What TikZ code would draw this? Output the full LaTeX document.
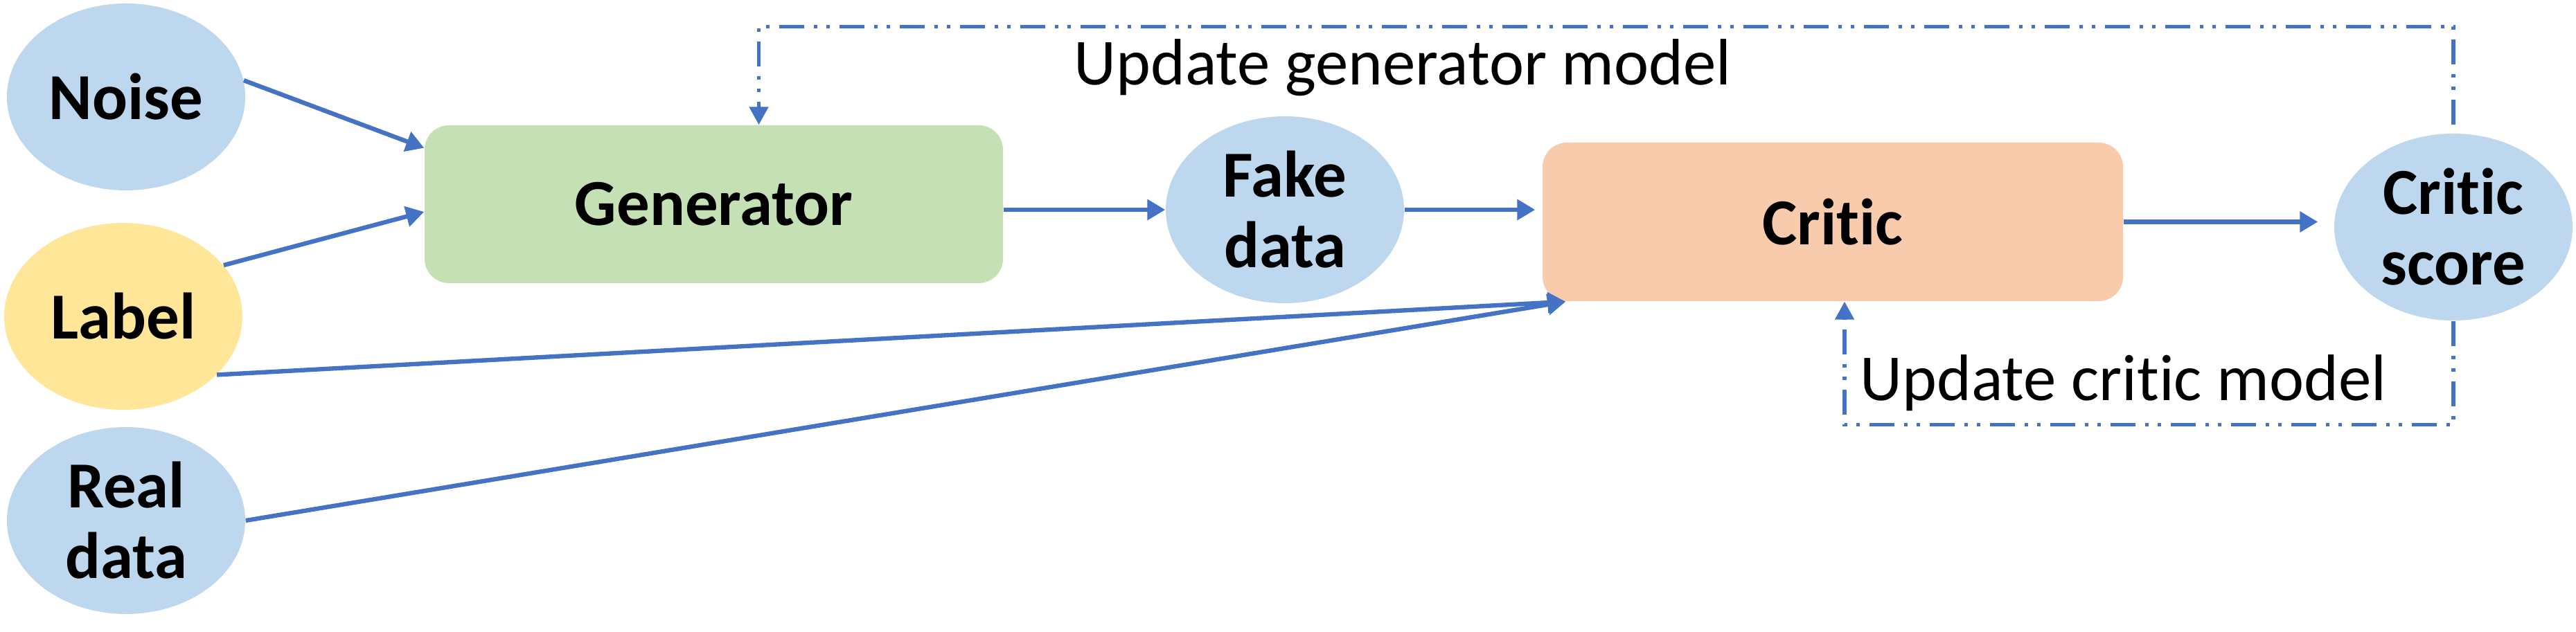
\documentclass[tikz,border=0pt]{standalone}
\usepackage{fontspec}
\setmainfont{Carlito}[Ligatures=NoCommon]
\usetikzlibrary{shapes.geometric,arrows.meta}
\definecolor{inputblue}{HTML}{BDD7EE}
\definecolor{labelyellow}{HTML}{FFE699}
\definecolor{gengreen}{HTML}{C5E0B4}
\definecolor{criticorange}{HTML}{F8CBAD}
\definecolor{arrowblue}{HTML}{4472C4}
\tikzset{
  blob/.style={ellipse, fill=inputblue, minimum width=3.44cm, minimum height=2.7cm,
    inner sep=0pt, align=center, font=\fontsize{27}{29}\selectfont\bfseries},
  block/.style={rectangle, rounded corners=0.35cm, minimum width=8.35cm,
    minimum height=2.28cm, font=\fontsize{27}{29}\selectfont\bfseries},
  flow/.style={draw=arrowblue, line width=1.8pt, -{Triangle[length=2.6mm,width=2.9mm]}},
  feedback/.style={draw=arrowblue, line width=1.5pt,
    dash pattern=on 0.36cm off 0.14cm on 0.05cm off 0.13cm on 0.05cm off 0.14cm,
    -{Triangle[length=2.6mm,width=2.7mm]}},
  looptext/.style={anchor=base west, inner sep=0pt, font=\fontsize{27}{29}\selectfont}
}

\begin{document}
\begin{tikzpicture}
  \useasboundingbox (0,0) rectangle (37.19,-9.13);
  \node[blob] (noise) at (1.82,-1.40) {Noise};
  \node[blob, fill=labelyellow] (label) at (1.78,-4.57) {Label};
  \node[blob] (real) at (1.82,-7.52) {Real\\data};
  \node[block, fill=gengreen] (generator) at (10.305,-2.95) {Generator};
  \node[blob] (fake) at (18.55,-3.03) {Fake\\data};
  \node[block, fill=criticorange, minimum width=8.38cm, minimum height=2.29cm] (critic) at (26.46,-3.205) {Critic};
  \node[blob] (score) at (35.42,-3.28) {Critic\\score};
  \node[looptext] (genupdate) at (15.50,-1.23) {Update generator model};
  \node[looptext] (criticupdate) at (26.85,-5.78) {Update critic model};

  \draw[flow] (noise.8) -- (generator.169);
  \draw[flow] (label.27) -- ([yshift=-1.1mm]generator.west);
  \draw[flow] (label.328) -- ([xshift=3.4mm]critic.south west);
  \draw[flow] (real.east) -- ([xshift=3.4mm]critic.south west);
  \draw[flow] (generator.east |- fake.west) -- (fake.west);
  \draw[flow, shorten >=1mm] (fake.east) -- (fake.east -| critic.west);
  \draw[flow, shorten >=2.3mm] (critic.east) -- (critic.east -| score.west);
  \draw[feedback] ([yshift=1.2mm]score.north) -- ++(0,1.42) -| ([xshift=6.5mm]generator.north);
  \draw[feedback] (score.south) -- ++(0,-1.5) -| ([xshift=1.7mm]critic.south);
\end{tikzpicture}
\end{document}
